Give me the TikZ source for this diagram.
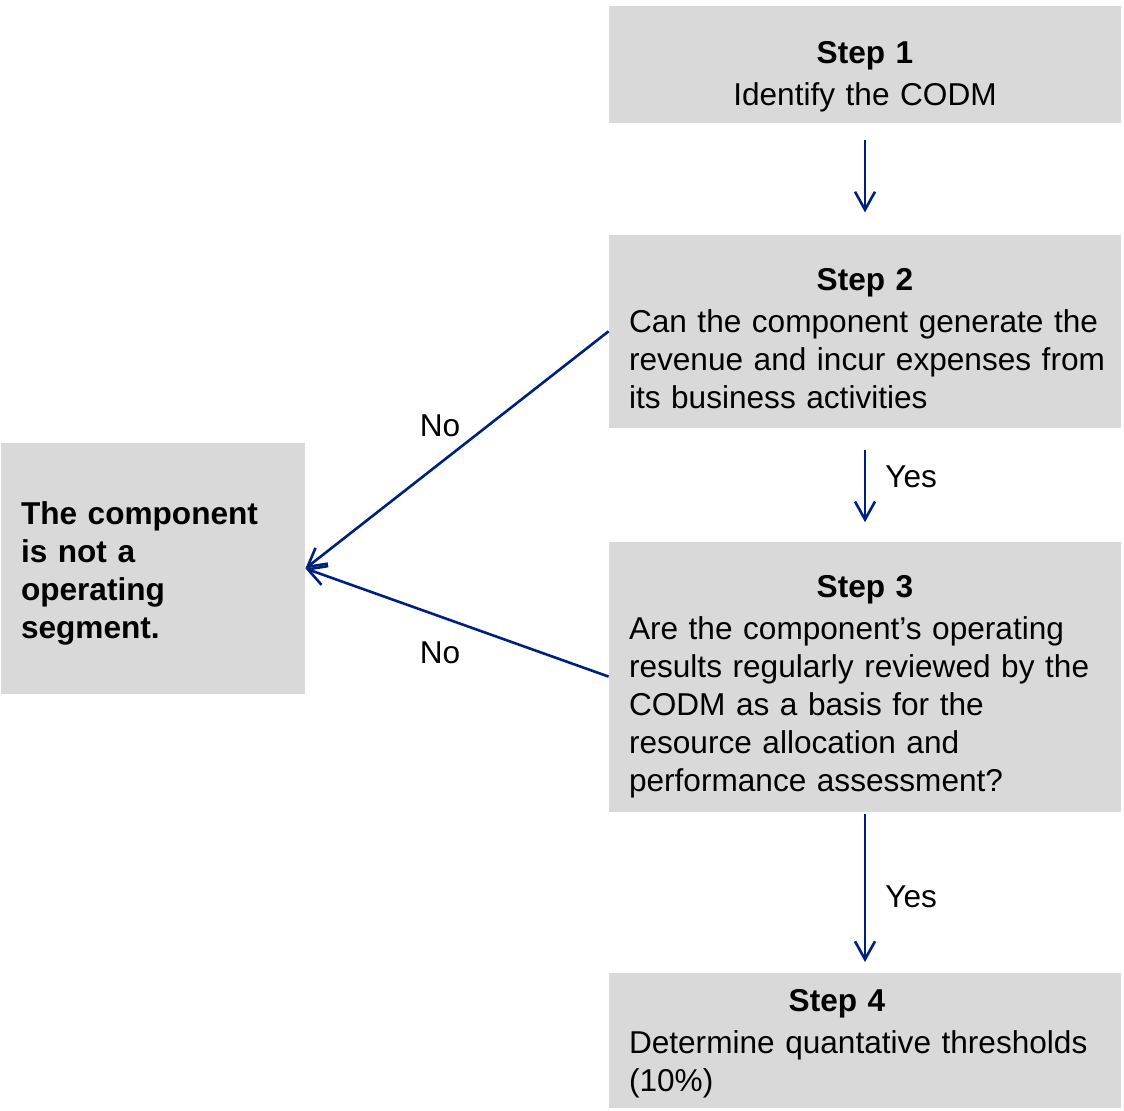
\documentclass[tikz,border=0pt]{standalone}
\usepackage{fontspec}
\setmainfont{Liberation Sans}
\usetikzlibrary{arrows.meta,positioning}
\definecolor{boxgray}{HTML}{D9D9D9}
\definecolor{arrowblue}{RGB}{0,32,128}
\newcommand{\boxtitle}[2][23pt]{{\centering\bfseries\rule{0pt}{#1}#2\par}\vspace{2pt}}

\begin{document}
\begin{tikzpicture}[font=\fontsize{15.8}{19}\selectfont,
    stepbox/.style={fill=boxgray, text width=236pt, align=left, inner xsep=10pt, inner ysep=0pt},
    arr/.style={-{Straight Barb[length=9pt,width=10pt]}, draw=arrowblue, line width=1.3pt},
    lbl/.style={inner sep=0pt}]
			\useasboundingbox (0,0) rectangle (562pt,-555.5pt);
			\node[stepbox, minimum height=58.5pt] (step1) at (432.5pt,-32.25pt) {\boxtitle{Step 1}{\centering Identify the CODM\par}};
			\node[stepbox, minimum height=96.5pt, below=55.5pt of step1] (step2) {\boxtitle[18pt]{Step 2}\mbox{Can the component generate the}\\ \mbox{revenue and incur expenses from}\\ its business activities};
			\node[stepbox, minimum height=135pt, below=56.5pt of step2] (step3) {\boxtitle[21pt]{Step 3}Are the component’s operating\\ results regularly reviewed by the\\ CODM as a basis for the\\ resource allocation and\\ performance assessment?};
			\node[stepbox, minimum height=67.5pt, below=80.5pt of step3] (step4) {\boxtitle[13.5pt]{\hspace*{-28pt}Step 4}Determine quantative thresholds\\ (10\%)};
			\node[stepbox, text width=132pt, minimum height=125.5pt, font=\fontsize{15.8}{19}\selectfont\bfseries] (notseg) at (76.5pt,-284.25pt) {\rule{0pt}{16pt}The component\\ is not a\\ operating\\ segment.};
			
			\draw[arr, shorten <=8.5pt, shorten >=11pt] (step1) -- (step2);
			\draw[arr, shorten <=11pt, shorten >=9.5pt] (step2) -- (step3)
			node[lbl, midway, right=9.5pt, yshift=3.75pt] {Yes};
			\draw[arr, shorten <=1pt, shorten >=5.5pt] (step3) -- (step4)
			node[lbl, midway, right=9.5pt, yshift=-2.25pt] {Yes};
			\draw[arr] (step2.west) -- (notseg.east) node[lbl, pos=0.556, yshift=18.5pt] {No};
			\draw[arr] (step3.west) -- (notseg.east) node[lbl, pos=0.556, yshift=-18.25pt] {No};
		\end{tikzpicture}
\end{document}
